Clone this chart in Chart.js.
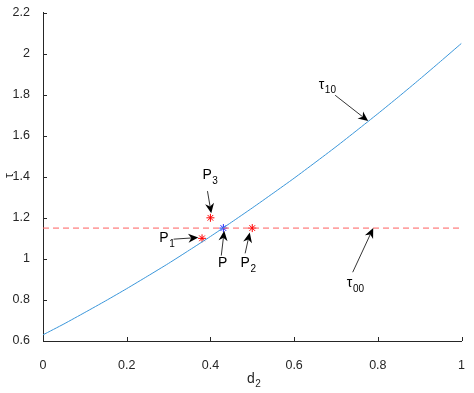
<!DOCTYPE html>
<html>
<head>
<meta charset="utf-8">
<script src="https://cdn.jsdelivr.net/npm/chart.js@4/dist/chart.umd.min.js"></script>
<style>
html, body { margin: 0; padding: 0; background: #fff; }
#wrap { width: 474px; height: 393px; }
</style>
</head>
<body>
<div id="wrap"><canvas id="myChart" width="474" height="393"></canvas></div>
<script>
// curve tau_10 against d_2
var d2Vals = [0, 0.05, 0.1, 0.15, 0.2, 0.25, 0.3, 0.35, 0.4, 0.45, 0.5,
              0.55, 0.6, 0.65, 0.7, 0.75, 0.8, 0.85, 0.9, 0.95, 1.0]
var tau10Vals = [0.630, 0.683, 0.739, 0.796, 0.855, 0.916, 0.978, 1.043, 1.109, 1.178, 1.248,
                 1.320, 1.393, 1.469, 1.546, 1.626, 1.707, 1.790, 1.875, 1.962, 2.050]

// tau_00 level (dashed)
var tau00X = [0, 1]
var tau00Vals = [1.15, 1.15]

// marked points
var redNames = ["P1", "P2", "P3"]
var redX = [0.38, 0.50, 0.40]
var redY = [1.10, 1.15, 1.20]
var blueX = [0.431]
var blueY = [1.15]

var xTicks = [0, 0.2, 0.4, 0.6, 0.8, 1]
var yTicks = [0.6, 0.8, 1, 1.2, 1.4, 1.6, 1.8, 2, 2.2]

function pts(xs, ys) {
    var out = []
    for (var i = 0; i < xs.length; i++) out.push({x: xs[i], y: ys[i]})
    return out
}

// text arrows: label (left, baseline) and arrow tail -> head, all in data units
var notes = [
    {main: "P", sub: "3", lx: 0.381, ly: 1.388, tx: 0.393, ty: 1.33, hx: 0.402, hy: 1.222},
    {main: "P", sub: "1", lx: 0.278, ly: 1.080, tx: 0.312, ty: 1.096, hx: 0.371, hy: 1.104},
    {main: "P", sub: "", lx: 0.418, ly: 0.958, tx: 0.426, ty: 1.016, hx: 0.433, hy: 1.137},
    {main: "P", sub: "2", lx: 0.472, ly: 0.958, tx: 0.483, ty: 1.027, hx: 0.494, hy: 1.128},
    {main: "\u03c4", sub: "10", lx: 0.659, ly: 1.829, tx: 0.698, ty: 1.797, hx: 0.777, hy: 1.671},
    {main: "\u03c4", sub: "00", lx: 0.726, ly: 0.862, tx: 0.74, ty: 0.935, hx: 0.789, hy: 1.15}
]

var axisColor = '#262626'
var fontFam = '"Liberation Sans", Arial, sans-serif'

function drawSubText(c, main, sub, x, y, size) {
    c.font = size + 'px ' + fontFam
    c.fillText(main, x, y)
    var w = c.measureText(main).width
    if (sub) {
        c.font = Math.round(size * 0.72) + 'px ' + fontFam
        c.fillText(sub, x + w + 0.5, y + size * 0.32)
    }
}

function arrow(c, x0, y0, x1, y1) {
    var ang = Math.atan2(y1 - y0, x1 - x0)
    var L = 10, W = 4.5, back = 7
    c.strokeStyle = '#000'
    c.lineWidth = 0.8
    c.beginPath()
    c.moveTo(x0, y0)
    c.lineTo(x1 - Math.cos(ang) * back, y1 - Math.sin(ang) * back)
    c.stroke()
    c.save()
    c.translate(x1, y1)
    c.rotate(ang)
    c.fillStyle = '#000'
    c.beginPath()
    c.moveTo(0, 0)
    c.lineTo(-L, -W)
    c.lineTo(-back, 0)
    c.lineTo(-L, W)
    c.closePath()
    c.fill()
    c.restore()
}

var extras = {
    id: 'extras',
    afterDraw: function(chart) {
        var c = chart.ctx, xs = chart.scales.x, ys = chart.scales.y
        var a = chart.chartArea
        c.save()
        // inward ticks
        c.strokeStyle = axisColor
        c.lineWidth = 1
        c.beginPath()
        xTicks.forEach(function(v) {
            var px = Math.round(xs.getPixelForValue(v)) + 0.5
            c.moveTo(px, a.bottom)
            c.lineTo(px, a.bottom - 4)
        })
        yTicks.forEach(function(v) {
            var py = Math.round(ys.getPixelForValue(v)) + 0.5
            c.moveTo(a.left, py)
            c.lineTo(a.left + 4, py)
        })
        c.stroke()

        // annotations
        c.textAlign = 'left'
        c.textBaseline = 'alphabetic'
        notes.forEach(function(n) {
            arrow(c, xs.getPixelForValue(n.tx), ys.getPixelForValue(n.ty),
                     xs.getPixelForValue(n.hx), ys.getPixelForValue(n.hy))
            c.fillStyle = '#000'
            drawSubText(c, n.main, n.sub, xs.getPixelForValue(n.lx), ys.getPixelForValue(n.ly), 14)
        })

        // axis titles
        c.fillStyle = axisColor
        drawSubText(c, "d", "2", 247, 383, 14)
        c.save()
        c.translate(13, 178)
        c.rotate(-Math.PI / 2)
        c.font = '12px ' + fontFam
        c.fillText("\u03c4", 0, 0)
        c.restore()
        c.restore()
    }
}

var ctx = document.getElementById('myChart').getContext('2d')

var chart = new Chart(ctx, {
    type: 'scatter',
    data: {
        datasets: [
            {
                label: "tau10",
                data: pts(d2Vals, tau10Vals),
                showLine: true,
                borderColor: '#3a96da',
                borderWidth: 1,
                pointRadius: 0,
                tension: 0.2
            },
            {
                label: "tau00",
                data: pts(tau00X, tau00Vals),
                showLine: true,
                borderColor: '#ff6060',
                borderWidth: 1,
                borderDash: [6, 4],
                pointRadius: 0
            },
            {
                label: "P",
                data: pts(blueX, blueY),
                pointStyle: 'star',
                pointRadius: 4,
                borderColor: '#2020ff',
                borderWidth: 1
            },
            {
                label: "P1-P3",
                data: pts(redX, redY),
                pointStyle: 'star',
                pointRadius: 4,
                borderColor: '#ff0000',
                borderWidth: 1
            }
        ]
    },
    options: {
        responsive: false,
        animation: false,
        layout: { padding: { left: 0, top: 10, right: 8, bottom: 0 } },
        plugins: { legend: { display: false }, tooltip: { enabled: false } },
        scales: {
            x: {
                type: 'linear',
                min: 0, max: 1,
                afterBuildTicks: function(s) { s.ticks = xTicks.map(function(v) { return {value: v} }) },
                afterFit: function(s) { s.height = 52 },
                grid: { display: false },
                border: { display: true, color: axisColor, width: 1 },
                ticks: {
                    color: axisColor, padding: 9,
                    font: { family: fontFam, size: 12.5 },
                    callback: function(v) { return String(Number(v.toFixed(1))) }
                }
            },
            y: {
                type: 'linear',
                min: 0.6, max: 2.2,
                afterBuildTicks: function(s) { s.ticks = yTicks.map(function(v) { return {value: v} }) },
                afterFit: function(s) { s.width = 43 },
                grid: { display: false },
                border: { display: true, color: axisColor, width: 1 },
                ticks: {
                    color: axisColor, padding: 5,
                    font: { family: fontFam, size: 12.5 },
                    callback: function(v) { return String(Number(v.toFixed(1))) }
                }
            }
        }
    },
    plugins: [extras]
});
</script>
</body>
</html>
